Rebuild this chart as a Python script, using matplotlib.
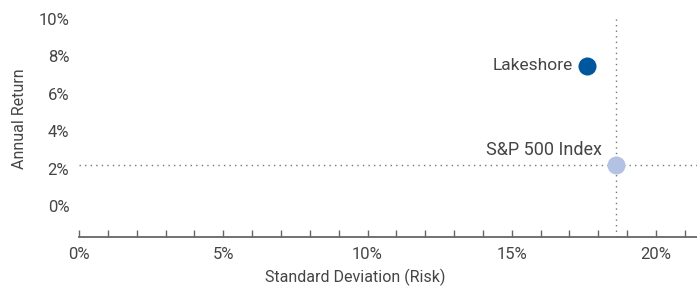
import matplotlib.pyplot as plt
from matplotlib.ticker import MultipleLocator, FuncFormatter

plt.rcParams['font.family'] = ['Roboto', 'DejaVu Sans']

names = ['Lakeshore', 'S&P 500 Index']
risk = [17.6, 18.6]      # standard deviation, %
ret = [7.5, 2.2]         # annual return, %
colors = ['#00579e', '#b3c2e3']
txt = '#454545'

fig = plt.figure(figsize=(6.97, 2.86), dpi=100)
ax = fig.add_axes([79 / 697, 49 / 286, 1 - 79 / 697, 1 - 49 / 286])

ax.set_xlim(0, 21.42)
ax.set_ylim(-1.65, 11.0)

# benchmark cross-hair
ax.axvline(risk[1], color='#777777', lw=1, ls=(0, (1, 3)), ymax=(10.05 + 1.65) / 12.65, zorder=1)
ax.axhline(ret[1], color='#777777', lw=1, ls=(0, (1, 3)), zorder=1)

for n, x, y, c in zip(names, risk, ret, colors):
    ax.plot(x, y, 'o', ms=13, color=c, mec='none', zorder=3)

ax.annotate(names[0], (risk[0], ret[0]), xytext=(-10, 0), textcoords='offset points',
            ha='right', va='center', fontsize=12.5, color=txt)
ax.annotate(names[1], (risk[1], ret[1]), xytext=(-10, 4), textcoords='offset points',
            ha='right', va='bottom', fontsize=13, color=txt)

for s in ['top', 'right', 'left']:
    ax.spines[s].set_visible(False)
ax.spines['bottom'].set_color('#666666')
ax.spines['bottom'].set_linewidth(1.3)

ax.xaxis.set_major_locator(MultipleLocator(5))
ax.xaxis.set_minor_locator(MultipleLocator(1))
ax.set_yticks([0, 2, 4, 6, 8, 10])
pct = FuncFormatter(lambda v, p: f'{v:.0f}%')
ax.xaxis.set_major_formatter(pct)
ax.yaxis.set_major_formatter(pct)

ax.tick_params(axis='x', which='both', direction='in', length=5, width=1, color='#666666',
               labelsize=12, labelcolor=txt, pad=7)
ax.tick_params(axis='y', length=0, labelsize=12, labelcolor=txt, pad=7)

ax.set_xlabel('Standard Deviation (Risk)', fontsize=11.5, color=txt, labelpad=5, x=0.447)
ax.set_ylabel('Annual Return', fontsize=11.5, color=txt, labelpad=8)

fig.savefig('out.png', dpi=100)
